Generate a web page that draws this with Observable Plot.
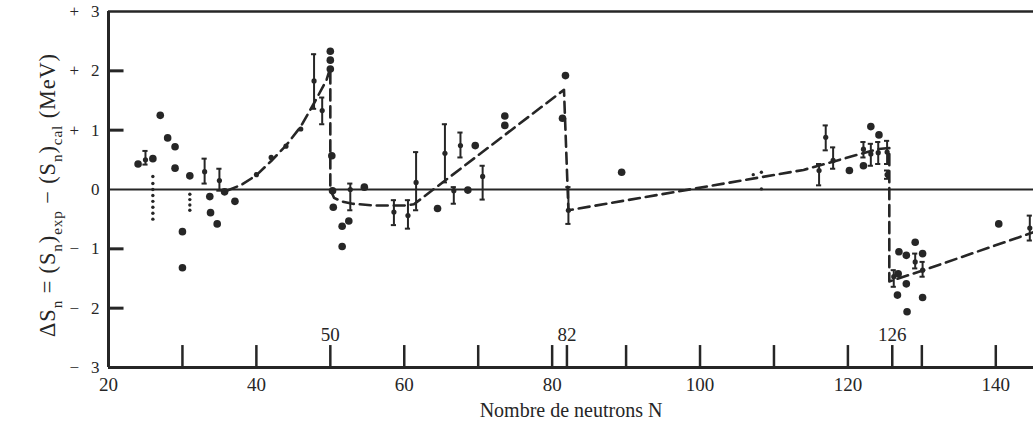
<!DOCTYPE html>
<html>
<head>
<meta charset="utf-8">
<script src="https://cdn.jsdelivr.net/npm/d3@7"></script>
<script src="https://cdn.jsdelivr.net/npm/@observablehq/plot@0.6"></script>
<style>
  html, body { margin: 0; padding: 0; background: #fff; }
  #chart { width: 1033px; height: 434px; overflow: hidden; }
</style>
</head>
<body>
<div id="chart"></div>
<script>
// ---- tick data ----
const xTickVals = [30, 40, 50, 60, 70, 80, 82, 90, 100, 110, 120, 126, 130, 140];
const xLabelVals = [20, 40, 60, 80, 100, 120, 140];
const magicN = [50, 82, 126];
const yTickVals = [-2, -1, 1, 2];
const yLabelVals = [-3, -2, -1, 0, 1, 2, 3];
const yLabelText = ["−\u2002\u20093", "−\u2002\u20092", "−\u2002\u20091", "0", "+\u2002\u20091", "+\u2002\u20092", "+\u2002\u20093"];

// ---- large data points ----
const dotN = [24, 26, 27, 28, 29, 29, 30, 30, 31, 33.7, 33.8, 34.7, 35.7, 37.1,
  50, 50, 50, 50.2, 50.3, 50.4, 51.6, 52.5, 51.6, 54.6, 64.5, 68.6, 69.6, 73.6, 73.6,
  81.8, 81.4, 89.4, 120.2, 122.1, 123.1, 124.2, 126.7, 126.9, 126.8, 127.9, 127.9,
  128.0, 129.1, 130.1, 130.1, 140.4];
const dotV = [0.43, 0.52, 1.25, 0.87, 0.72, 0.36, -0.71, -1.32, 0.23, -0.12, -0.39, -0.58, -0.04, -0.2,
  2.33, 2.18, 2.03, 0.57, -0.02, -0.3, -0.62, -0.53, -0.96, 0.04, -0.32, -0.01, 0.74, 1.24, 1.08,
  1.92, 1.2, 0.29, 0.32, 0.4, 1.06, 0.92, -1.78, -1.05, -1.42, -1.11, -1.59,
  -2.06, -0.89, -1.08, -1.82, -0.58];

// ---- medium points on the curve ----
const midN = [40, 42, 44, 46];
const midV = [0.25, 0.54, 0.73, 1.02];

// ---- small points ----
const smallN = [26, 26, 26, 26, 26, 26, 26, 26, 31, 31, 31, 31, 107.2, 108.3, 108.3];
const smallV = [0.22, 0.1, 0.0, -0.1, -0.2, -0.3, -0.4, -0.5, -0.08, -0.17, -0.26, -0.35, 0.25, 0.29, 0.01];

// ---- error bars ----
const errN   = [25, 33, 35, 47.8, 48.9, 52.7, 58.6, 60.5, 61.6, 65.5, 66.7, 67.6, 70.6, 82.2,
  116.1, 117, 118, 122.1, 123.1, 124.1, 125.3, 125.3, 126.2, 129.1, 130.1, 144.6];
const errLo  = [0.42, 0.1, -0.02, 1.36, 1.1, -0.35, -0.6, -0.66, -0.35, 0.12, -0.24, 0.54, -0.17, -0.58,
  0.07, 0.66, 0.35, 0.54, 0.4, 0.43, 0.43, 0.18, -1.64, -1.33, -1.47, -0.86];
const errHi  = [0.65, 0.52, 0.35, 2.28, 1.55, 0.1, -0.18, -0.18, 0.63, 1.1, 0.04, 0.96, 0.4, 0.04,
  0.43, 1.08, 0.71, 0.8, 0.77, 0.8, 0.82, 0.32, -1.36, -1.08, -1.22, -0.44];
const errMid = [0.5, 0.3, 0.15, 1.83, 1.33, 0.0, -0.38, -0.44, 0.12, 0.61, -0.02, 0.74, 0.22, -0.35,
  0.32, 0.88, 0.49, 0.68, 0.6, 0.62, 0.63, 0.25, -1.47, -1.22, -1.36, -0.65];

// ---- dashed model curve ----
const modelN = [36, 38, 40, 42, 44, 46, 48, 49.5, 50, 50, 50.5, 51.5, 53, 56, 60, 61.3, 81.6, 82.2,
  114, 124, 125.6, 125.6, 130, 145.1];
const modelV = [-0.02, 0.08, 0.24, 0.48, 0.74, 1.06, 1.5, 1.85, 2.05, 0.0, -0.14, -0.2, -0.24, -0.27, -0.27, -0.25, 1.68, -0.35,
  0.33, 0.68, 0.7, -1.55, -1.37, -0.72];

const dots = dotN.map((n, i) => ({N: n, v: dotV[i]}));
const mids = midN.map((n, i) => ({N: n, v: midV[i]}));
const smalls = smallN.map((n, i) => ({N: n, v: smallV[i]}));
const errs = errN.map((n, i) => ({N: n, lo: errLo[i], hi: errHi[i], mid: errMid[i]}));
const model = modelN.map((n, i) => ({N: n, v: modelV[i]}));
const yLabels = yLabelVals.map((v, i) => ({v, t: yLabelText[i]}));

const ink = "#262626";
const X0 = 20, X1 = 145.1;
const serif = "'Liberation Serif', 'DejaVu Serif', serif";

const plot = Plot.plot({
  width: 1033,
  height: 434,
  marginLeft: 108,
  marginRight: 0,
  marginTop: 11,
  marginBottom: 67,
  x: {domain: [X0, X1]},
  y: {domain: [-3, 3], axis: null},
  style: {fontFamily: serif, fontSize: "18px", color: ink, background: "#fff"},
  marks: [
    // x labels below frame
    Plot.axisX(xLabelVals, {tickSize: 0, tickPadding: 10, label: null, fontSize: 19, tickFormat: d => String(d)}),
    // y labels left of frame
    Plot.text(yLabels, {x: X0, y: "v", text: "t", textAnchor: "end", dx: -9, fontSize: 17, fill: ink}),
    // axis title
    Plot.text(["Nombre de neutrons N"], {frameAnchor: "bottom", dy: 49, fontSize: 20, fill: ink, letterSpacing: "0.7px"}),
    // inward x ticks
    Plot.ruleX(xTickVals, {x: d => d, y1: -3, y2: -2.63, stroke: ink, strokeWidth: 2.5}),
    // inward y ticks
    Plot.ruleY(yTickVals, {y: d => d, x1: X0, x2: X0 + 2.1, stroke: ink, strokeWidth: 3}),
    // magic number labels
    Plot.text(magicN, {x: d => d, y: -2.45, text: d => String(d), fontSize: 19, fill: ink}),
    // frame
    Plot.ruleY([3], {x1: X0, x2: X1, stroke: ink, strokeWidth: 2.5}),
    Plot.ruleY([-3], {x1: X0, x2: X1, stroke: ink, strokeWidth: 3}),
    Plot.ruleX([X0], {y1: -3, y2: 3, stroke: ink, strokeWidth: 3}),
    // zero line
    Plot.ruleY([0], {x1: X0, x2: X1, stroke: ink, strokeWidth: 2}),
    // model dashed curve
    Plot.line(model, {x: "N", y: "v", stroke: ink, strokeWidth: 2.6, strokeDasharray: "11,6", curve: "linear"}),
    // error bars
    Plot.ruleX(errs, {x: "N", y1: "lo", y2: "hi", stroke: ink, strokeWidth: 2}),
    Plot.ruleY(errs, {y: "hi", x1: d => d.N - 0.35, x2: d => d.N + 0.35, stroke: ink, strokeWidth: 2}),
    Plot.ruleY(errs, {y: "lo", x1: d => d.N - 0.35, x2: d => d.N + 0.35, stroke: ink, strokeWidth: 2}),
    Plot.dot(errs, {x: "N", y: "mid", r: 2.6, fill: ink}),
    // points
    Plot.dot(smalls, {x: "N", y: "v", r: 1.7, fill: ink}),
    Plot.dot(mids, {x: "N", y: "v", r: 2.6, fill: ink}),
    Plot.dot(dots, {x: "N", y: "v", r: 3.8, fill: ink})
  ]
});

document.getElementById("chart").appendChild(plot);

// rotated y-axis title with subscripts
const svg = d3.select(plot);
const parts = [
  ["ΔS", 0], ["n", 1], [" = (S", 0], ["n", 1], [")", 0], ["exp", 1],
  [" − (S", 0], ["n", 1], [")", 0], ["cal", 1], [" (MeV)", 0]
];
function buildLabel(fs) {
  svg.selectAll("text.ylab").remove();
  const t = svg.append("text")
    .attr("class", "ylab")
    .attr("text-anchor", "start")
    .attr("fill", ink)
    .style("font-family", serif)
    .style("font-size", fs + "px")
    .style("letter-spacing", (fs * 0.04) + "px");
  let prevSub = false;
  parts.forEach(([s, sub]) => {
    const ts = t.append("tspan").text(s);
    if (sub) ts.style("font-size", (fs * 0.68) + "px");
    if (sub && !prevSub) ts.attr("dy", fs * 0.3);
    else if (!sub && prevSub) ts.attr("dy", -fs * 0.3);
    prevSub = !!sub;
  });
  return t;
}
let fs = 19;
let lab = buildLabel(fs);
const len0 = lab.node().getComputedTextLength();
if (len0 > 0) {
  fs = fs * 284 / len0;
  lab = buildLabel(fs);
}
const len = lab.node().getComputedTextLength() || 284;
lab.attr("x", -len / 2).attr("transform", "translate(55,195) rotate(-90)");
</script>
</body>
</html>
